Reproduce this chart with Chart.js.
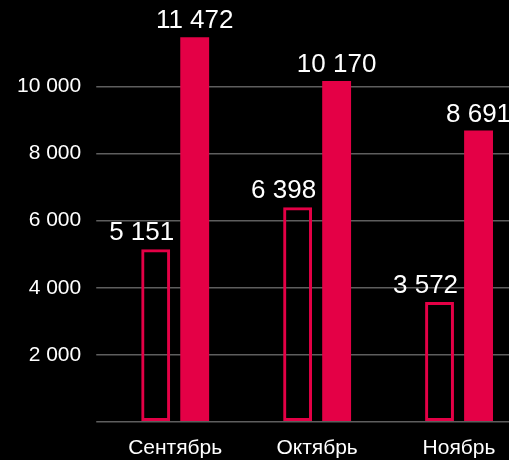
<!DOCTYPE html>
<html>
<head>
<meta charset="utf-8">
<script src="https://cdn.jsdelivr.net/npm/chart.js@4"></script>
<style>
  html, body { margin: 0; padding: 0; background: #000; overflow: hidden; }
  #wrap { width: 530px; height: 483px; margin-top: -8px; }
</style>
</head>
<body>
<div id="wrap"><canvas id="chart"></canvas></div>
<script>
const categories = ['Сентябрь', 'Октябрь', 'Ноябрь'];
const prevValues = [5151, 6398, 3572];
const currValues = [11472, 10170, 8691];
const yMax = 12000;
const yStep = 2000;

const red = '#e40046';
const fontFamily = '"Liberation Sans", Arial, sans-serif';

function fmt(v) {
    return String(v).replace(/\B(?=(\d{3})+(?!\d))/g, ' ');
}

/* ===== VALUE LABELS ===== */
const valueLabels = {
    id: 'valueLabels',
    afterDatasetsDraw(chart) {
        const ctx = chart.ctx;
        ctx.save();
        ctx.font = '26px ' + fontFamily;
        ctx.fillStyle = '#ffffff';
        ctx.textAlign = 'center';
        ctx.textBaseline = 'alphabetic';
        chart.data.datasets.forEach((ds, i) => {
            const shift = i === 0 ? -14 : 0;
            chart.getDatasetMeta(i).data.forEach((bar, j) => {
                ctx.fillText(fmt(ds.data[j]), bar.x + shift, bar.y - 9);
            });
        });
        ctx.restore();
    }
};

const ctx = document.getElementById('chart').getContext('2d');

const chart = new Chart(ctx, {
    type: 'bar',
    data: {
        labels: categories,
        datasets: [
            {
                label: 'prev',
                data: prevValues,
                backgroundColor: 'rgba(0,0,0,0)',
                borderColor: red,
                borderWidth: 3,
                borderSkipped: false,
                categoryPercentage: 0.55,
                barPercentage: 0.74
            },
            {
                label: 'curr',
                data: currValues,
                backgroundColor: red,
                borderWidth: 0,
                categoryPercentage: 0.55,
                barPercentage: 0.74
            }
        ]
    },
    options: {
        responsive: true,
        maintainAspectRatio: false,
        animation: false,
        layout: { padding: { left: 2, right: 0, top: 10, bottom: 0 } },
        plugins: {
            legend: { display: false },
            tooltip: { enabled: false }
        },
        scales: {
            x: {
                grid: { display: false, drawTicks: false },
                border: { display: false },
                ticks: {
                    color: '#ffffff',
                    font: { family: fontFamily, size: 21 },
                    padding: 14
                }
            },
            y: {
                min: 0,
                max: yMax,
                border: { display: false },
                grid: {
                    color: ctx => (ctx.tick && ctx.tick.value === yMax) ? 'rgba(0,0,0,0)' : '#5e5e5e',
                    lineWidth: 1.5,
                    drawTicks: true,
                    tickLength: 8
                },
                ticks: {
                    stepSize: yStep,
                    color: '#ffffff',
                    font: { family: fontFamily, size: 21 },
                    padding: 15,
                    callback: v => (v === 0 || v === yMax) ? '' : fmt(v)
                }
            }
        }
    },
    plugins: [valueLabels]
});
</script>
</body>
</html>
